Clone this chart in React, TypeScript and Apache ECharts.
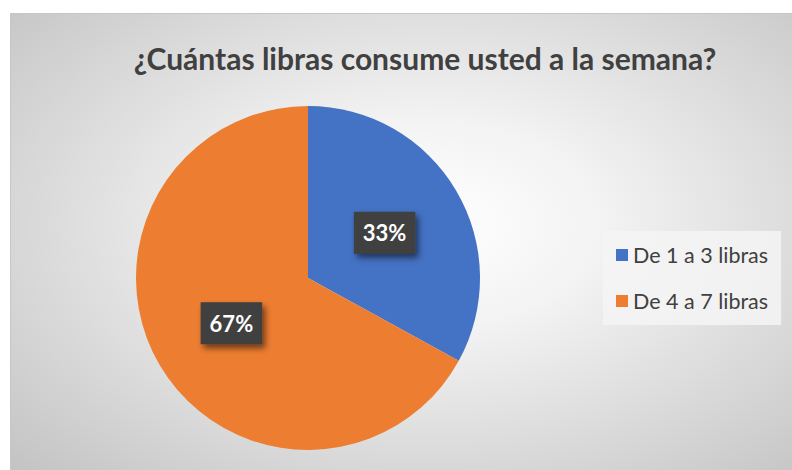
import React, { useEffect, useRef } from "react";
import * as echarts from "echarts";

const titleText = "¿Cuántas libras consume usted a la semana?";
const categories = ["De 1 a 3 libras", "De 4 a 7 libras"];
const values = [33, 67];
const colors = ["#4472C4", "#ED7D31"];

export default function App() {
  const ref = useRef<HTMLDivElement>(null);
  useEffect(() => {
    if (!ref.current) return;
    const chart = echarts.init(ref.current, null, { renderer: "svg" });
    const font = "Lato, 'Open Sans', sans-serif";
    chart.setOption({
      animation: false,
      backgroundColor: "#ffffff",
      graphic: [
        {
          type: "rect",
          z: -10,
          silent: true,
          shape: { x: 10.5, y: 13.5, width: 800, height: 480 },
          style: {
            fill: {
              type: "radial",
              x: 0.52,
              y: 0.44,
              r: 0.72,
              colorStops: [
                { offset: 0, color: "#ffffff" },
                { offset: 0.3, color: "#f3f3f3" },
                { offset: 1, color: "#c4c4c4" },
              ],
            },
            stroke: "#c6c6c6",
            lineWidth: 1,
          },
        },
        {
          type: "text",
          x: 425,
          y: 58,
          style: {
            text: titleText,
            fill: "#404040",
            font: `bold 30px ${font}`,
            textAlign: "center",
            textVerticalAlign: "middle",
          },
        },
      ],
      legend: {
        orient: "vertical",
        left: 603,
        top: 231,
        padding: [12, 13, 12, 13],
        backgroundColor: "rgba(245,245,245,0.85)",
        icon: "rect",
        itemWidth: 12,
        itemHeight: 12,
        itemGap: 22,
        data: categories,
        textStyle: {
          fontFamily: font,
          fontSize: 21.5,
          lineHeight: 24,
          color: "#404040",
        },
      },
      series: [
        {
          type: "pie",
          center: [308, 278],
          radius: 172,
          startAngle: 90,
          clockwise: true,
          label: {
            show: true,
            position: "inside",
            formatter: "{d}%",
            color: "#ffffff",
            fontFamily: font,
            fontWeight: "bold",
            fontSize: 22,
            lineHeight: 22,
            backgroundColor: "#3f3f3f",
            padding: [10, 9, 10, 9],
            shadowColor: "rgba(0,0,0,0.55)",
            shadowBlur: 6,
            shadowOffsetX: 3,
            shadowOffsetY: 4,
          },
          labelLine: { show: false },
          emphasis: { disabled: true },
          data: categories.map((name, i) => ({
            name,
            value: values[i],
            itemStyle: { color: colors[i] },
          })),
        },
      ],
    });
    return () => chart.dispose();
  }, []);
  return (
    <div
      ref={ref}
      style={{ position: "fixed", left: 0, top: 0, width: 792, height: 470 }}
    />
  );
}
